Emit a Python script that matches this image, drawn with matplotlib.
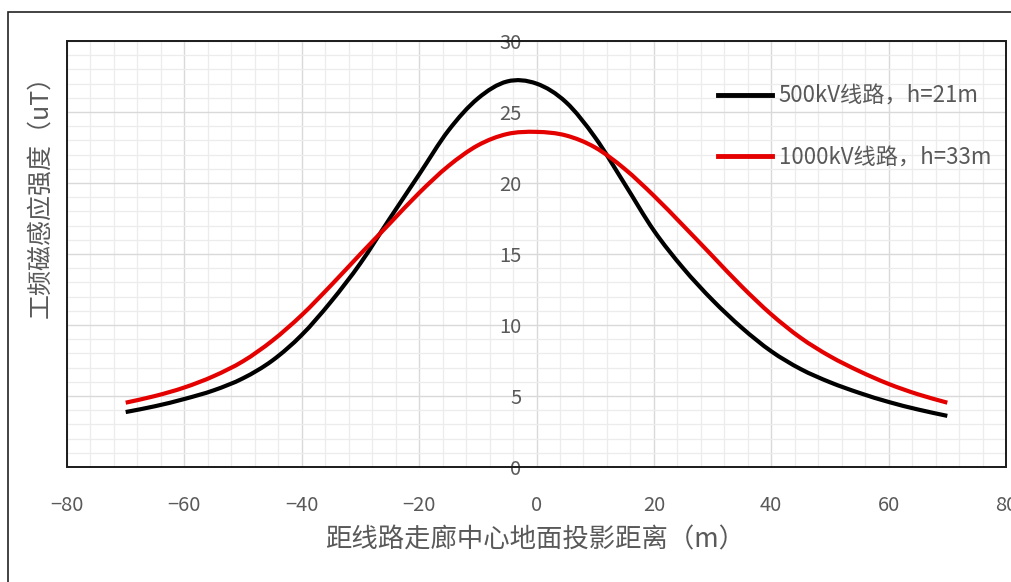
import numpy as np
import matplotlib
matplotlib.use("Agg")
import matplotlib.pyplot as plt
from matplotlib.patches import Rectangle, PathPatch
from matplotlib.path import Path
from matplotlib.lines import Line2D
from matplotlib.ticker import MultipleLocator

plt.rcParams['font.family'] = ['Noto Sans CJK SC', 'DejaVu Sans']

# ---- data ----
x_dist = [-70, -65, -60, -55, -50, -45, -40, -35, -30, -25, -20, -15, -10, -5,
          0, 5, 10, 15, 20, 25, 30, 35, 40, 45, 50, 55, 60, 65, 70]
b500 = [3.87, 4.28, 4.79, 5.4, 6.25, 7.5, 9.3, 11.65, 14.35, 17.5, 20.6, 23.7, 25.95, 27.15,
        27.0, 25.7, 23.2, 19.95, 16.65, 14.0, 11.75, 9.8, 8.15, 6.9, 5.97, 5.22, 4.58, 4.05, 3.6]
r1000 = [4.53, 5.0, 5.6, 6.4, 7.45, 8.9, 10.7, 12.8, 15.0, 17.15, 19.3, 21.2, 22.65, 23.45,
         23.6, 23.35, 22.5, 21.0, 19.1, 17.0, 14.85, 12.7, 10.75, 9.1, 7.8, 6.75, 5.85, 5.12, 4.53]
series_labels = ['500kV线路，h=21m', '1000kV线路，h=33m']
series_colors = ['black', '#e50000']
xlabel = '距线路走廊中心地面投影距离（m）'
ylabel = '工频磁感应强度（uT）'
xticks = [-80, -60, -40, -20, 0, 20, 40, 60, 80]
yticks = [0, 5, 10, 15, 20, 25, 30]


def smooth_path(xs, ys):
    """Smoothed line (like a spreadsheet 'smoothed line'): cubic Bezier through every data point."""
    x = np.asarray(xs, float)
    y = np.asarray(ys, float)
    n = len(x)
    m = np.empty(n)
    m[0] = (y[1] - y[0]) / (x[1] - x[0])
    m[-1] = (y[-1] - y[-2]) / (x[-1] - x[-2])
    m[1:-1] = (y[2:] - y[:-2]) / (x[2:] - x[:-2])
    verts = [(x[0], y[0])]
    codes = [Path.MOVETO]
    for i in range(n - 1):
        h = x[i + 1] - x[i]
        verts += [(x[i] + h / 3, y[i] + m[i] * h / 3),
                  (x[i + 1] - h / 3, y[i + 1] - m[i + 1] * h / 3),
                  (x[i + 1], y[i + 1])]
        codes += [Path.CURVE4] * 3
    return Path(np.array(verts), codes)


W, H = 1011, 582
fig = plt.figure(figsize=(W / 100, H / 100), dpi=100)
fig.patch.set_facecolor('white')

# outer frame
fig.patches.append(Rectangle((8 / W, -0.1), 1.2, 1 - 12 / H + 0.1, transform=fig.transFigure,
                             fill=False, edgecolor='#222222', linewidth=1.2))

L, R, T, B = 67, 1006, 41, 467
ax = fig.add_axes([L / W, 1 - B / H, (R - L) / W, (B - T) / H])
ax.set_xlim(-80, 80)
ax.set_ylim(0, 30)

for ys, col in zip([b500, r1000], series_colors):
    ax.add_patch(PathPatch(smooth_path(x_dist, ys), facecolor='none', edgecolor=col,
                           lw=3.0, capstyle='butt', joinstyle='round', zorder=3))

# grid
ax.set_axisbelow(True)
ax.xaxis.set_minor_locator(MultipleLocator(4))
ax.yaxis.set_minor_locator(MultipleLocator(1))
ax.set_xticks(xticks)
ax.set_yticks(yticks)
ax.grid(which='major', color='#d9d9d9', lw=1.0)
ax.grid(which='minor', color='#ececec', lw=0.9)

# spines: y axis crosses at x=0 (invisible), draw box separately
ax.spines['left'].set_position(('data', 0))
for s in ['left', 'right', 'top', 'bottom']:
    ax.spines[s].set_visible(False)
ax.add_patch(Rectangle((0, 0), 1, 1, transform=ax.transAxes, fill=False,
                       edgecolor='#1a1a1a', lw=1.4, zorder=4, clip_on=False))

ax.tick_params(axis='both', which='both', length=0)
ax.tick_params(axis='x', pad=20, labelsize=14.5, labelcolor='#595959')
ax.tick_params(axis='y', pad=11, labelsize=14.5, labelcolor='#595959')

ax.set_xlabel(xlabel, fontsize=19, color='#595959', va='center')
ax.xaxis.set_label_coords(0.498, -0.171)
ax.set_ylabel(ylabel, fontsize=18, color='#595959', va='center')
ax.yaxis.set_label_coords(-0.0288, 0.650)

handles = [Line2D([], [], color=c, lw=3.5) for c in series_colors]
leg = ax.legend(handles, series_labels, loc='upper left', bbox_to_anchor=(718 / W, 1 - 85 / H),
                bbox_transform=fig.transFigure, frameon=False, fontsize=16, handlelength=2.43,
                handletextpad=0.3, labelspacing=1.72, borderpad=0, borderaxespad=0)
for t in leg.get_texts():
    t.set_color('#595959')

fig.savefig('out.png', dpi=100, facecolor='white')
